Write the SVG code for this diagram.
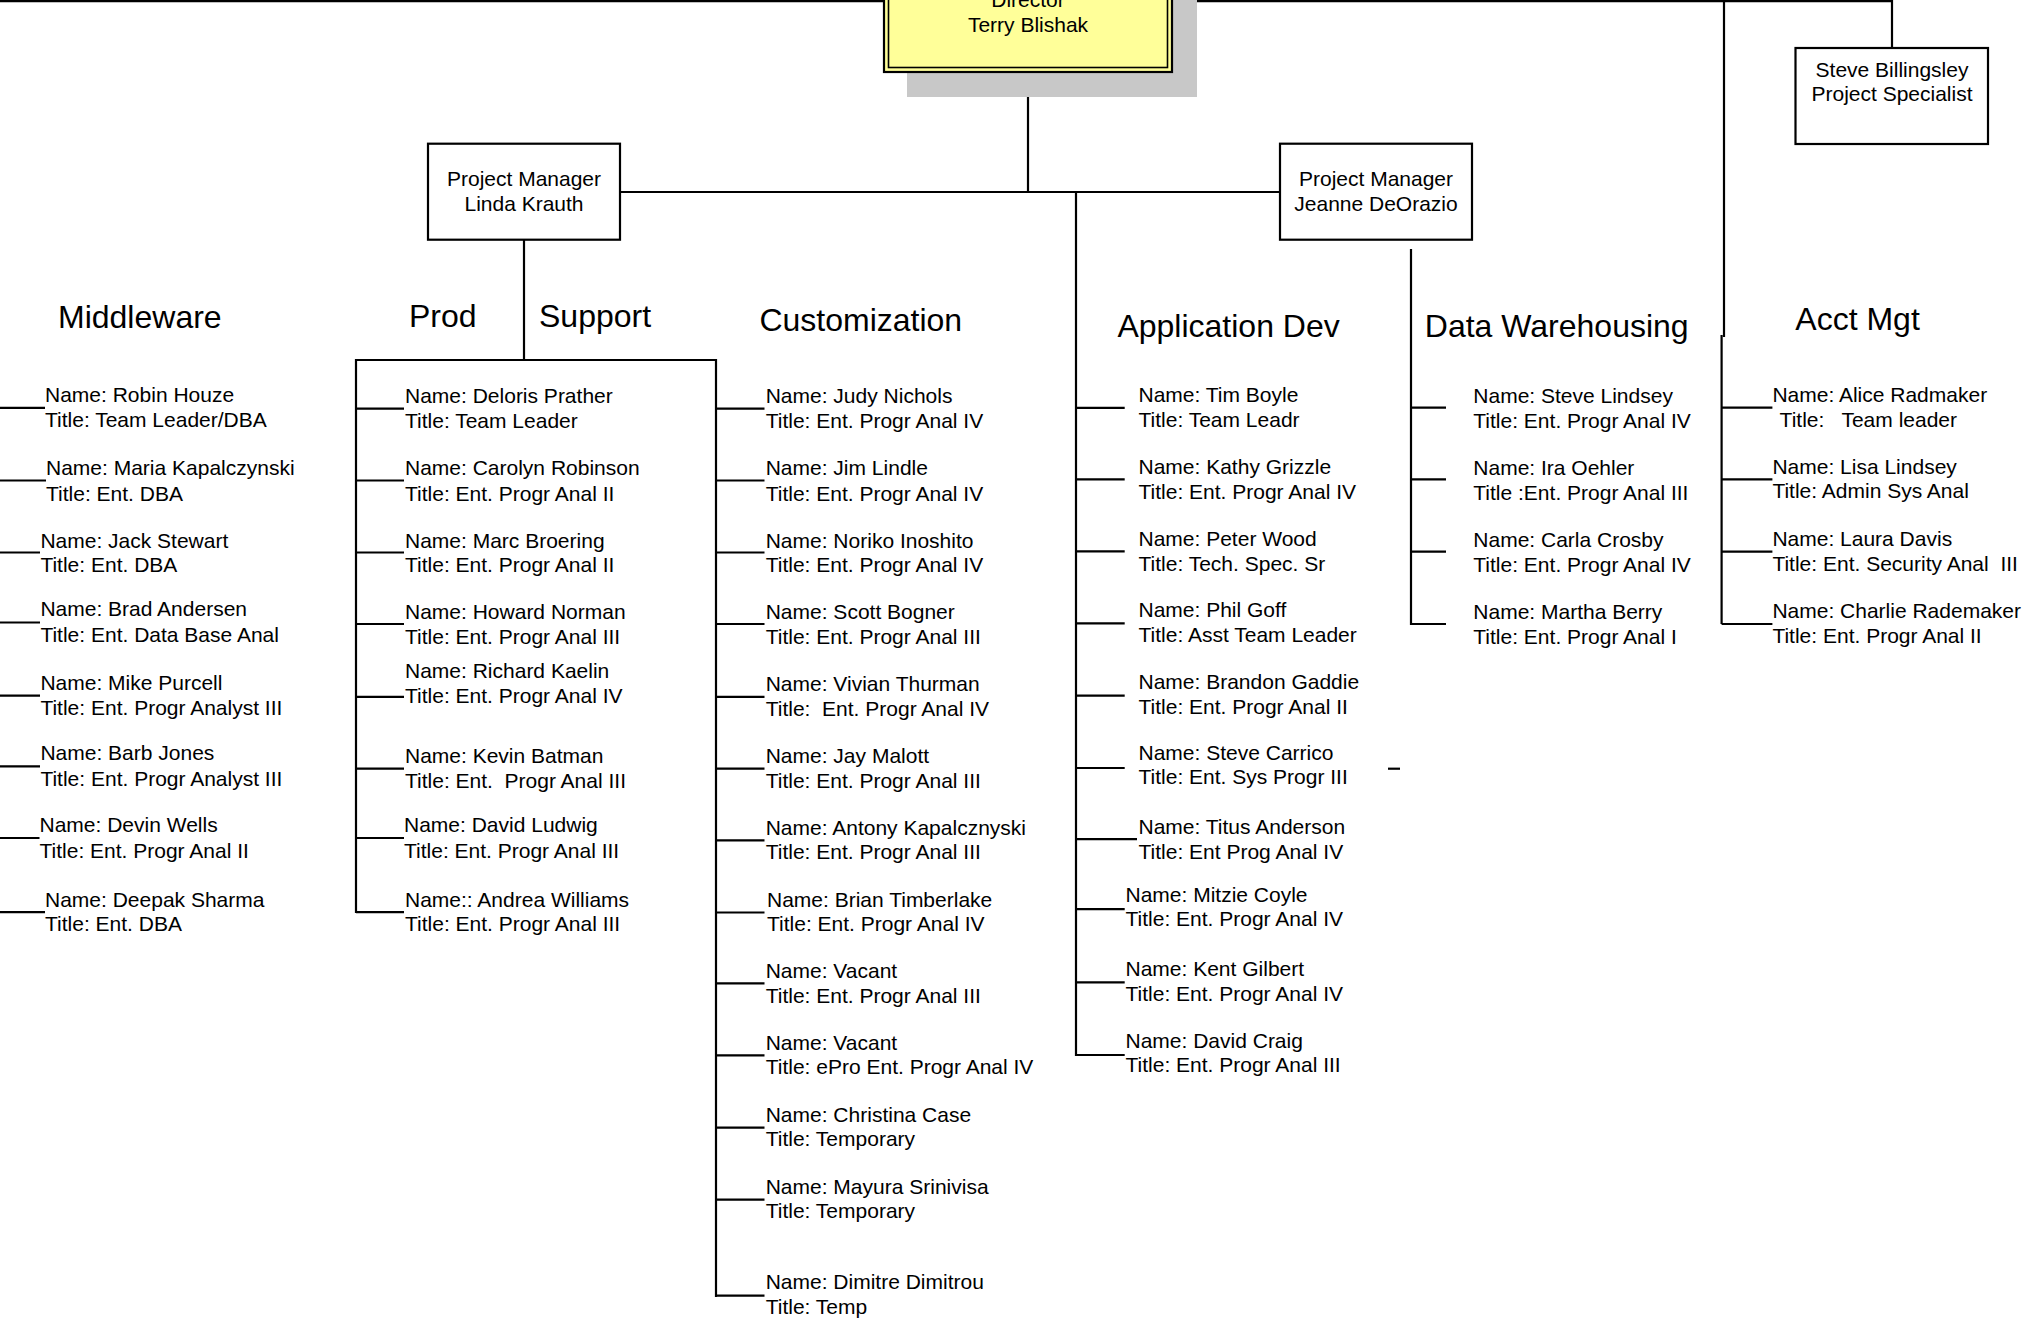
<svg xmlns="http://www.w3.org/2000/svg" width="2028" height="1319" viewBox="0 0 2028 1319">
<style>
.bg{fill:#ffffff}
.ln{fill:none;stroke:#000;stroke-width:2.2}
.box{fill:#fff;stroke:#000;stroke-width:2.2}
.t{font-family:"Liberation Sans",Arial,sans-serif;font-size:21px;fill:#000}
.c{text-anchor:middle}
.h{font-family:"Liberation Sans",Arial,sans-serif;font-size:32px;fill:#000}
</style>
<rect class="bg" x="0" y="0" width="2028" height="1319"/>
<g id="connectors">
<path class="ln" d="M0 1.2 H1892 V48"/>
<path class="ln" d="M1724 1 V337"/>
<path class="ln" d="M1721.6 335 V624"/>
<path class="ln" d="M1028 72 V192"/>
<path class="ln" d="M620 192 H1280"/>
<path class="ln" d="M1076 192 V1056"/>
<path class="ln" d="M524 240 V360"/>
<path class="ln" d="M356 913 V360 H716 V1297"/>
<path class="ln" d="M1411 249 V625"/>
<path class="ln" d="M0 407.8 H45 M0 480.5 H46 M0 552.5 H40 M0 622.5 H40 M0 695.6 H40 M0 766.4 H40 M0 838 H39.5 M0 912.2 H45"/>
<path class="ln" d="M356 408.6 H404 M356 480.5 H404 M356 552.5 H404 M356 624 H404 M356 696.8 H404 M356 768.7 H404 M356 838 H404 M356 912.2 H404"/>
<path class="ln" d="M716 408.6 H764.5 M716 480.5 H764.5 M716 552.5 H764.5 M716 624 H764.5 M716 696.8 H764.5 M716 768.7 H764.5 M716 840.3 H764.5 M716 912.5 H764.5 M716 983.3 H764.5 M716 1055.3 H764.5 M716 1127.7 H764.5 M716 1199.7 H764.5 M716 1295.7 H764.5"/>
<path class="ln" d="M1076 407.8 H1124.7 M1076 479.4 H1124.7 M1076 551.4 H1124.7 M1076 623.3 H1124.7 M1076 695.6 H1124.7 M1076 768 H1124.7 M1076 839.2 H1137 M1076 909.2 H1124.7 M1076 982.3 H1124.7 M1076 1055 H1124.7"/>
<path class="ln" d="M1388 768.7 H1400"/>
<path class="ln" d="M1411 407.7 H1446 M1411 479.3 H1446 M1411 551.7 H1446 M1411 624 H1446"/>
<path class="ln" d="M1721.6 407.7 H1772.4 M1721.6 479.3 H1772.4 M1721.6 551.7 H1772.4 M1721.6 624 H1772.4"/>
</g>

<g id="director">
<rect x="907" y="-40" width="290" height="137" fill="#c8c8c8"/>
<rect x="884" y="-40" width="288" height="112" fill="#ffff99" stroke="#000" stroke-width="2.2"/>
<rect x="888.5" y="-40" width="279" height="107.5" fill="none" stroke="#000" stroke-width="1.6"/>
<text class="t c" x="1028" y="6.5">Director</text>
<text class="t c" x="1028" y="32">Terry Blishak</text>
</g>

<g id="pm-linda">
<rect class="box" x="428" y="143.7" width="192" height="96"/>
<text class="t c" x="524" y="186">Project Manager</text>
<text class="t c" x="524" y="211">Linda Krauth</text>
</g>

<g id="pm-jeanne">
<rect class="box" x="1280" y="143.7" width="192" height="96"/>
<text class="t c" x="1376" y="186">Project Manager</text>
<text class="t c" x="1376" y="211">Jeanne DeOrazio</text>
</g>

<g id="steve-billingsley">
<rect class="box" x="1795.5" y="48" width="192.5" height="96"/>
<text class="t c" x="1892" y="77.3">Steve Billingsley</text>
<text class="t c" x="1892" y="101">Project Specialist</text>
</g>

<g id="headers">
<text class="h" x="58" y="328.3">Middleware</text>
<text class="h" x="409" y="326.7">Prod</text>
<text class="h" x="539" y="326.7">Support</text>
<text class="h" x="759.4" y="331">Customization</text>
<text class="h" x="1117.4" y="336.7">Application Dev</text>
<text class="h" x="1424.8" y="336.7">Data Warehousing</text>
<text class="h" x="1795.3" y="330">Acct Mgt</text>
</g>

<g id="middleware">
<g id="mw1"><text class="t" x="45" y="402.1">Name: Robin Houze</text><text class="t" x="45" y="427">Title: Team Leader/DBA</text></g>
<g id="mw2"><text class="t" x="46" y="474.8">Name: Maria Kapalczynski</text><text class="t" x="46" y="500.5">Title: Ent. DBA</text></g>
<g id="mw3"><text class="t" x="40.4" y="547.5">Name: Jack Stewart</text><text class="t" x="40.4" y="572.4">Title: Ent. DBA</text></g>
<g id="mw4"><text class="t" x="40.4" y="616.4">Name: Brad Andersen</text><text class="t" x="40.4" y="642">Title: Ent. Data Base Anal</text></g>
<g id="mw5"><text class="t" x="40.4" y="689.9">Name: Mike Purcell</text><text class="t" x="40.4" y="715.2">Title: Ent. Progr Analyst III</text></g>
<g id="mw6"><text class="t" x="40.4" y="760.3">Name: Barb Jones</text><text class="t" x="40.4" y="785.6">Title: Ent. Progr Analyst III</text></g>
<g id="mw7"><text class="t" x="39.5" y="832.3">Name: Devin Wells</text><text class="t" x="39.5" y="857.5">Title: Ent. Progr Anal II</text></g>
<g id="mw8"><text class="t" x="45" y="906.5">Name: Deepak Sharma</text><text class="t" x="45" y="931">Title: Ent. DBA</text></g>
</g>

<g id="prod-support">
<g id="ps1"><text class="t" x="405" y="403.2">Name: Deloris Prather</text><text class="t" x="405" y="428.1">Title: Team Leader</text></g>
<g id="ps2"><text class="t" x="405" y="474.8">Name: Carolyn Robinson</text><text class="t" x="405" y="500.5">Title: Ent. Progr Anal II</text></g>
<g id="ps3"><text class="t" x="405" y="547.5">Name: Marc Broering</text><text class="t" x="405" y="572.4">Title: Ent. Progr Anal II</text></g>
<g id="ps4"><text class="t" x="405" y="619">Name: Howard Norman</text><text class="t" x="405" y="644.3">Title: Ent. Progr Anal III</text></g>
<g id="ps5"><text class="t" x="405" y="677.6">Name: Richard Kaelin</text><text class="t" x="405" y="702.9">Title: Ent. Progr Anal IV</text></g>
<g id="ps6"><text class="t" x="405" y="762.6">Name: Kevin Batman</text><text class="t" x="405" y="787.5" xml:space="preserve">Title: Ent.  Progr Anal III</text></g>
<g id="ps7"><text class="t" x="404" y="831.5">Name: David Ludwig</text><text class="t" x="404" y="857.5">Title: Ent. Progr Anal III</text></g>
<g id="ps8"><text class="t" x="405" y="906.5">Name:: Andrea Williams</text><text class="t" x="405" y="931">Title: Ent. Progr Anal III</text></g>
</g>

<g id="customization">
<g id="cu1"><text class="t" x="765.7" y="403.2">Name: Judy Nichols</text><text class="t" x="765.7" y="428.1">Title: Ent. Progr Anal IV</text></g>
<g id="cu2"><text class="t" x="765.7" y="474.8">Name: Jim Lindle</text><text class="t" x="765.7" y="500.5">Title: Ent. Progr Anal IV</text></g>
<g id="cu3"><text class="t" x="765.7" y="547.5">Name: Noriko Inoshito</text><text class="t" x="765.7" y="572.4">Title: Ent. Progr Anal IV</text></g>
<g id="cu4"><text class="t" x="765.7" y="619">Name: Scott Bogner</text><text class="t" x="765.7" y="644.3">Title: Ent. Progr Anal III</text></g>
<g id="cu5"><text class="t" x="765.7" y="691">Name: Vivian Thurman</text><text class="t" x="765.7" y="716" xml:space="preserve">Title:  Ent. Progr Anal IV</text></g>
<g id="cu6"><text class="t" x="765.7" y="762.6">Name: Jay Malott</text><text class="t" x="765.7" y="787.5">Title: Ent. Progr Anal III</text></g>
<g id="cu7"><text class="t" x="765.7" y="834.6">Name: Antony Kapalcznyski</text><text class="t" x="765.7" y="859.4">Title: Ent. Progr Anal III</text></g>
<g id="cu8"><text class="t" x="767" y="906.5">Name: Brian Timberlake</text><text class="t" x="767" y="931">Title: Ent. Progr Anal IV</text></g>
<g id="cu9"><text class="t" x="765.7" y="977.7">Name: Vacant</text><text class="t" x="765.7" y="1002.7">Title: Ent. Progr Anal III</text></g>
<g id="cu10"><text class="t" x="765.7" y="1050">Name: Vacant</text><text class="t" x="765.7" y="1074">Title: ePro Ent. Progr Anal IV</text></g>
<g id="cu11"><text class="t" x="765.7" y="1121.7">Name: Christina Case</text><text class="t" x="765.7" y="1146">Title: Temporary</text></g>
<g id="cu12"><text class="t" x="765.7" y="1194">Name: Mayura Srinivisa</text><text class="t" x="765.7" y="1218.3">Title: Temporary</text></g>
<g id="cu13"><text class="t" x="765.7" y="1289.3">Name: Dimitre Dimitrou</text><text class="t" x="765.7" y="1314.3">Title: Temp</text></g>
</g>

<g id="application-dev">
<g id="ad1"><text class="t" x="1138.5" y="402.1">Name: Tim Boyle</text><text class="t" x="1138.5" y="427">Title: Team Leadr</text></g>
<g id="ad2"><text class="t" x="1138.5" y="474">Name: Kathy Grizzle</text><text class="t" x="1138.5" y="498.5">Title: Ent. Progr Anal IV</text></g>
<g id="ad3"><text class="t" x="1138.5" y="545.6">Name: Peter Wood</text><text class="t" x="1138.5" y="570.5">Title: Tech. Spec. Sr</text></g>
<g id="ad4"><text class="t" x="1138.5" y="617.2">Name: Phil Goff</text><text class="t" x="1138.5" y="642.4">Title: Asst Team Leader</text></g>
<g id="ad5"><text class="t" x="1138.5" y="689.1">Name: Brandon Gaddie</text><text class="t" x="1138.5" y="714">Title: Ent. Progr Anal II</text></g>
<g id="ad6"><text class="t" x="1138.5" y="760">Name: Steve Carrico</text><text class="t" x="1138.5" y="784">Title: Ent. Sys Progr III</text></g>
<g id="ad7"><text class="t" x="1138.5" y="833.8">Name: Titus Anderson</text><text class="t" x="1138.5" y="858.7">Title: Ent Prog Anal IV</text></g>
<g id="ad8"><text class="t" x="1125.5" y="901.5">Name: Mitzie Coyle</text><text class="t" x="1125.5" y="926.4">Title: Ent. Progr Anal IV</text></g>
<g id="ad9"><text class="t" x="1125.5" y="976">Name: Kent Gilbert</text><text class="t" x="1125.5" y="1001">Title: Ent. Progr Anal IV</text></g>
<g id="ad10"><text class="t" x="1125.5" y="1047.7">Name: David Craig</text><text class="t" x="1125.5" y="1071.7">Title: Ent. Progr Anal III</text></g>
</g>

<g id="data-warehousing">
<g id="dw1"><text class="t" x="1473.3" y="402.7">Name: Steve Lindsey</text><text class="t" x="1473.3" y="428.3">Title: Ent. Progr Anal IV</text></g>
<g id="dw2"><text class="t" x="1473.3" y="475">Name: Ira Oehler</text><text class="t" x="1473.3" y="500">Title :Ent. Progr Anal III</text></g>
<g id="dw3"><text class="t" x="1473.3" y="546.7">Name: Carla Crosby</text><text class="t" x="1473.3" y="571.7">Title: Ent. Progr Anal IV</text></g>
<g id="dw4"><text class="t" x="1473.3" y="619.3">Name: Martha Berry</text><text class="t" x="1473.3" y="644">Title: Ent. Progr Anal I</text></g>
</g>

<g id="acct-mgt">
<g id="am1"><text class="t" x="1772.4" y="401.7">Name: Alice Radmaker</text><text class="t" x="1779.6" y="426.7" xml:space="preserve">Title:   Team leader</text></g>
<g id="am2"><text class="t" x="1772.4" y="474.3">Name: Lisa Lindsey</text><text class="t" x="1772.4" y="498.3">Title: Admin Sys Anal</text></g>
<g id="am3"><text class="t" x="1772.4" y="546">Name: Laura Davis</text><text class="t" x="1772.4" y="570.7" xml:space="preserve">Title: Ent. Security Anal  III</text></g>
<g id="am4"><text class="t" x="1772.4" y="618.3">Name: Charlie Rademaker</text><text class="t" x="1772.4" y="642.7">Title: Ent. Progr Anal II</text></g>
</g>
</svg>
